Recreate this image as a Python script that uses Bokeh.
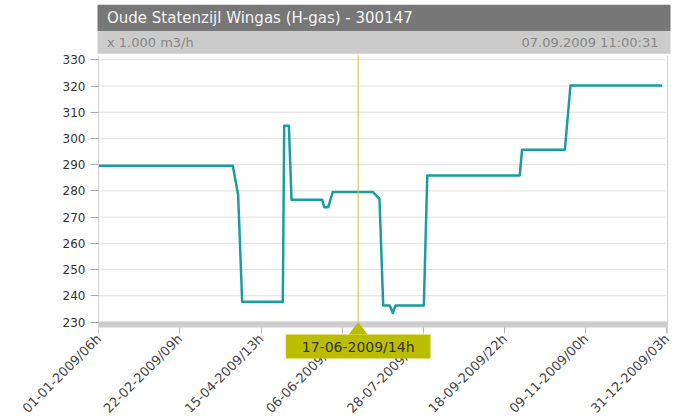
import math
from bokeh.plotting import figure
from bokeh.models import (Range1d, FixedTicker, Label, BoxAnnotation, PolyAnnotation)
from bokeh.embed import file_html
from bokeh.resources import INLINE

title_text = "Oude Statenzijl Wingas (H-gas) - 300147"
unit_text = "x 1.000 m3/h"
stamp_text = "07.09.2009 11:00:31"

# x: days after the first tick (01-01-2009/06h); y: flow in 1.000 m3/h
day = [0, 86.1, 89.5, 92.1, 118.2, 119.1, 122.1, 123.8, 143.5, 144.8, 147.4,
       150.3, 176.0, 180.3, 182.7, 186.9, 188.9, 190.6, 208.8, 211.0, 270.4,
       271.9, 299.4, 303.0, 361.9]
flow = [289.6, 289.6, 278.5, 237.7, 237.7, 304.8, 304.8, 276.6, 276.6, 273.8,
        273.8, 279.6, 279.6, 277.0, 236.3, 236.3, 233.4, 236.3, 236.3, 285.9,
        285.9, 295.7, 295.7, 320.2, 320.2]

tick_days = [0, 52.14, 104.29, 156.43, 208.57, 260.71, 312.86, 365.0]
tick_labels = ["01-01-2009/06h", "22-02-2009/09h", "15-04-2009/13h", "06-06-2009/16h",
               "28-07-2009/20h", "18-09-2009/22h", "09-11-2009/00h", "31-12-2009/03h"]
y_ticks = [230, 240, 250, 260, 270, 280, 290, 300, 310, 320, 330]

cursor_day = 166.6
cursor_text = "17-06-2009/14h"

FONT = "DejaVu Sans"
TEAL = "#1a9e9c"
OLIVE = "#bdbd00"
BORDER = "#d0d0d0"

# ---------- geometry: the frame covers the whole canvas ----------
W, H = 673, 419
PX_PER_UNIT = 2.622     # vertical pixels per 1 unit of flow
Y330_PX = 59.3          # page y of the 330 grid line
PX_PER_DAY = 1.5567
TICK0_PX = 98.3         # page x of the first x tick


def xv(px):
    """page pixel x -> day"""
    return (px - TICK0_PX) / PX_PER_DAY


def yv(py):
    """page pixel y -> value"""
    return 330 - (py - Y330_PX) / PX_PER_UNIT


LEFT_EDGE = xv(98)
RIGHT_EDGE = xv(667)
GRID_END = xv(665)
PLOT_TOP = yv(55)
PLOT_BOTTOM = yv(327)   # bottom of the grey band = bottom of the plot area
BAND_TOP = yv(321)

p = figure(width=W, height=H, x_range=Range1d(xv(0), xv(W)),
           y_range=Range1d(yv(H), yv(0)), toolbar_location=None, output_backend="svg",
           min_border_left=0, min_border_right=0, min_border_top=0, min_border_bottom=0,
           outline_line_color=None, background_fill_color="white",
           border_fill_color="white")

# ---------- header ----------
p.add_layout(BoxAnnotation(left=xv(97), right=xv(670), bottom=yv(30.5), top=yv(4.3),
                           fill_color="#777777", fill_alpha=1, line_color=None))
p.add_layout(BoxAnnotation(left=xv(97), right=xv(670), bottom=yv(53.3), top=yv(30.5),
                           fill_color="#cbcbcb", fill_alpha=1, line_color=None))
p.add_layout(Label(x=xv(106.5), y=yv(17.6), text=title_text, text_baseline="middle",
                   text_align="left", text_font=FONT, text_font_size="15px",
                   text_color="#f4f4f4"))
p.add_layout(Label(x=xv(106.5), y=yv(42), text=unit_text, text_baseline="middle",
                   text_align="left", text_font=FONT, text_font_size="13px",
                   text_color="#888888"))
p.add_layout(Label(x=xv(658), y=yv(42), text=stamp_text, text_baseline="middle",
                   text_align="right", text_font=FONT, text_font_size="13px",
                   text_color="#888888"))

# ---------- grid and axes ----------
p.xgrid.grid_line_color = None
p.ygrid.grid_line_color = None
# horizontal grid lines only across the plot area
p.segment(x0=[LEFT_EDGE] * len(y_ticks), y0=y_ticks,
          x1=[GRID_END] * len(y_ticks), y1=y_ticks,
          line_color="#e0e0e0", line_width=1, level="underlay")

ya = p.yaxis[0]
ya.fixed_location = LEFT_EDGE
ya.ticker = FixedTicker(ticks=y_ticks)
ya.bounds = (yv(333), PLOT_TOP)
ya.minor_tick_line_color = None
ya.major_tick_out = 8
ya.major_tick_in = 0
ya.major_tick_line_color = "#aaaaaa"
ya.axis_line_color = BORDER
ya.major_label_standoff = 5
ya.major_label_text_font = FONT
ya.major_label_text_font_size = "12px"
ya.major_label_text_color = "#333333"

xa = p.xaxis[0]
xa.fixed_location = PLOT_BOTTOM
xa.ticker = FixedTicker(ticks=tick_days)
xa.major_label_overrides = {t: lab for t, lab in zip(tick_days, tick_labels)}
xa.bounds = (tick_days[0], tick_days[-1])
xa.minor_tick_line_color = None
xa.major_tick_out = 6
xa.major_tick_in = 0
xa.major_tick_line_color = "#bbbbbb"
xa.axis_line_color = None
xa.major_label_orientation = math.pi / 4
xa.major_label_standoff = 3
xa.major_label_text_font = FONT
xa.major_label_text_font_size = "13px"
xa.major_label_text_color = "#444444"

# grey band at the bottom of the plot area
p.add_layout(BoxAnnotation(left=LEFT_EDGE, right=RIGHT_EDGE, bottom=PLOT_BOTTOM, top=BAND_TOP,
                           fill_color="#cccccc", fill_alpha=1, line_color=None,
                           level="underlay"))
# right border of the plot area
p.segment(x0=[RIGHT_EDGE], y0=[yv(333)], x1=[RIGHT_EDGE], y1=[PLOT_TOP],
          line_color=BORDER, line_width=1)

# ---------- data ----------
p.line(day, flow, line_color=TEAL, line_width=2.5, line_join="round")

# ---------- cursor ----------
p.segment(x0=[cursor_day], y0=[BAND_TOP], x1=[cursor_day], y1=[PLOT_TOP],
          line_color="#c6c640", line_width=1)
tip_half = 6.1
p.add_layout(PolyAnnotation(xs=[cursor_day - tip_half, cursor_day, cursor_day + tip_half],
                            ys=[yv(334), yv(321.7), yv(334)],
                            fill_color=OLIVE, fill_alpha=1, line_color=None))
p.add_layout(Label(x=cursor_day, y=yv(346), text=cursor_text,
                   text_align="center", text_baseline="middle", text_font=FONT,
                   text_font_size="14px", text_color="#333333",
                   background_fill_color=OLIVE, background_fill_alpha=1,
                   padding=dict(left=16, right=16, top=4, bottom=4)))

open("out.html", "w").write(file_html(p, INLINE))
